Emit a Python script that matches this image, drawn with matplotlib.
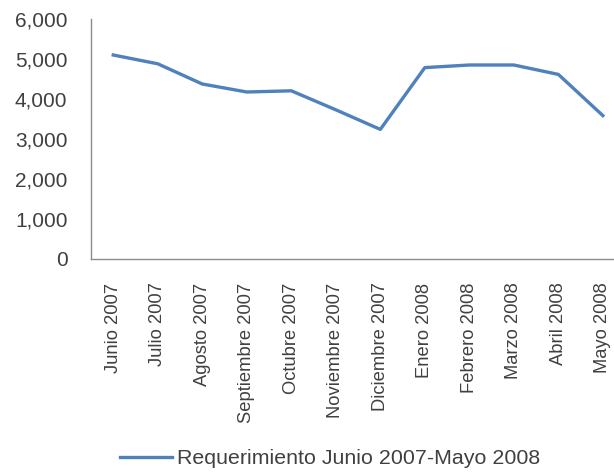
import matplotlib
matplotlib.use('Agg')
import matplotlib.pyplot as plt
from matplotlib.ticker import FuncFormatter

plt.rcParams['font.family'] = ['Liberation Sans', 'DejaVu Sans']

months = ['Junio 2007', 'Julio 2007', 'Agosto 2007', 'Septiembre 2007', 'Octubre 2007',
          'Noviembre 2007', 'Diciembre 2007', 'Enero 2008', 'Febrero 2008', 'Marzo 2008',
          'Abril 2008', 'Mayo 2008']
requerimiento = [5100, 4880, 4375, 4175, 4205, 3730, 3240, 4785, 4850, 4850, 4615, 3585]
series_label = 'Requerimiento Junio 2007-Mayo 2008'
yticks = [0, 1000, 2000, 3000, 4000, 5000, 6000]

fig = plt.figure(figsize=(6.14, 4.72), dpi=100)
ax = fig.add_axes([91 / 614, 1 - 259 / 472, 1 - 91 / 614, 240 / 472])

x = list(range(len(months)))
line, = ax.plot(x, requerimiento, color='#4F81BD', lw=2.4, solid_joinstyle='round')

ax.set_ylim(0, 6000)
ax.set_xlim(-0.5, 11.25)
ax.set_yticks(yticks)
ax.yaxis.set_major_formatter(FuncFormatter(lambda v, p: f'{int(v):,}'))
ax.set_xticks(x)
ax.set_xticklabels(months, rotation=90, va='top', ha='center')
ax.tick_params(axis='both', length=0, colors='#404040')
ax.tick_params(axis='x', pad=17, labelsize=13.2)
ax.tick_params(axis='y', pad=17, labelsize=15)
for s in ('top', 'right'):
    ax.spines[s].set_visible(False)
for s in ('left', 'bottom'):
    ax.spines[s].set_color('#8C8C8C')
    ax.spines[s].set_linewidth(1)

fig.legend([line], [series_label], loc='center', bbox_to_anchor=(0.538, 1 - 459 / 472),
           frameon=False, fontsize=15.4, handlelength=2.43, handletextpad=0.25,
           borderpad=0, labelcolor='#404040')

fig.savefig('out.png', dpi=100)
